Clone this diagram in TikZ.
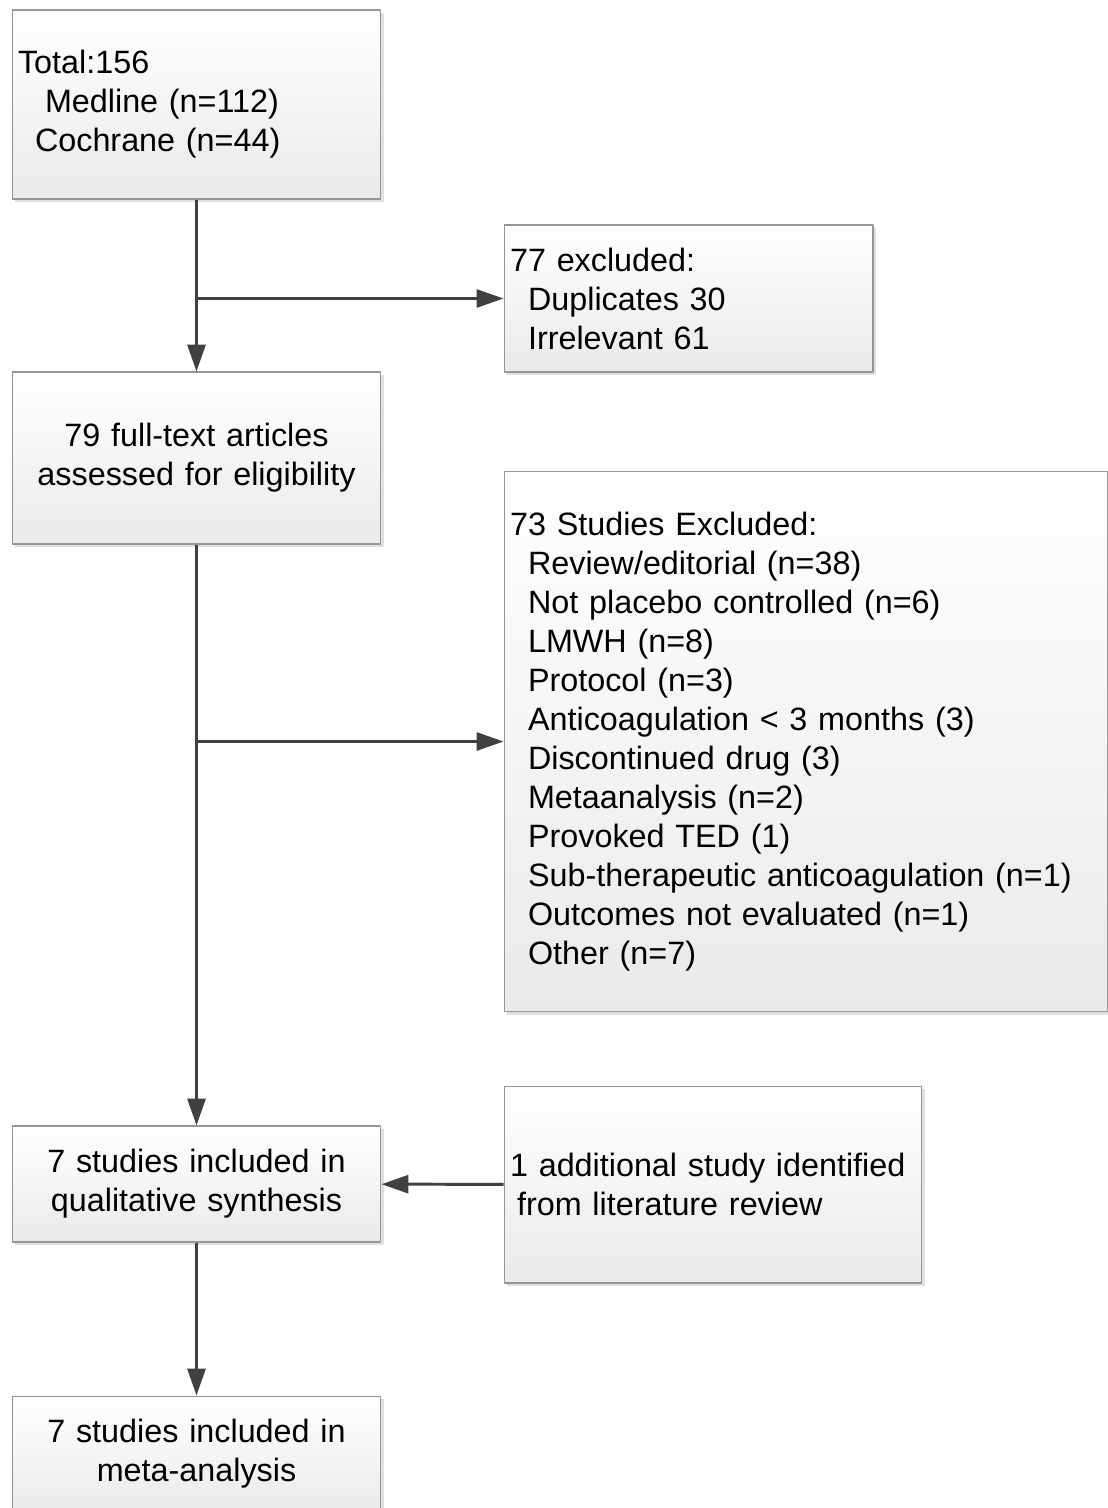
\documentclass[tikz,border=0pt]{standalone}
\usepackage{fontspec}
\setmainfont{Liberation Sans}
\usetikzlibrary{arrows.meta,shadows}
\definecolor{boxline}{RGB}{150,150,150}
\definecolor{arrowgray}{RGB}{64,64,64}
\definecolor{boxbottom}{RGB}{234,234,234}
\tikzset{
	box/.style={draw=boxline,line width=0.6pt,top color=white,bottom color=boxbottom,
		drop shadow={shadow xshift=0.06cm,shadow yshift=-0.06cm,fill=black!12,opacity=1},
		inner xsep=0.12cm,inner ysep=0pt,
		font=\fontsize{18.4}{22.2}\selectfont},
	leftbox/.style={box,align=left},
	midbox/.style={box,align=center},
	link/.style={draw=arrowgray,line width=1.7pt,->}
}
\newcommand{\ind}[1]{\hspace*{#1}}
\begin{document}
\begin{tikzpicture}[x=0.02cm,y=-0.02cm,>={Triangle[length=0.54cm,width=0.36cm]},line join=round]
	\useasboundingbox (0,0) rectangle (1107,1508);
	\node[leftbox,text width=7.14cm,minimum height=3.78cm] (total) at (196.5,104.5)
		{Total:156\\\ind{0.54cm}Medline (n=112)\\\ind{0.34cm}Cochrane (n=44)};
	\node[leftbox,text width=7.14cm,minimum height=2.94cm] (excl1) at (688.5,298.5)
		{77 excluded:\\\ind{0.36cm}Duplicates 30\\\ind{0.36cm}Irrelevant 61};
	\node[midbox,text width=7.14cm,minimum height=3.44cm] (full) at (196.5,458)
		{79 full-text articles\\assessed for eligibility};
	\node[leftbox,text width=11.84cm,minimum height=10.82cm] (excl2) at (806,741.5)
		{73 Studies Excluded:\\
		\ind{0.36cm}Review/editorial (n=38)\\
		\ind{0.36cm}Not placebo controlled (n=6)\\
		\ind{0.36cm}LMWH (n=8)\\
		\ind{0.36cm}Protocol (n=3)\\
		\ind{0.36cm}Anticoagulation < 3 months (3)\\
		\ind{0.36cm}Discontinued drug (3)\\
		\ind{0.36cm}Metaanalysis (n=2)\\
		\ind{0.36cm}Provoked TED (1)\\
		\ind{0.36cm}Sub-therapeutic anticoagulation (n=1)\\
		\ind{0.36cm}Outcomes not evaluated (n=1)\\
		\ind{0.36cm}Other (n=7)};
	\node[midbox,text width=7.14cm,minimum height=2.32cm] (qual) at (196.5,1184)
		{7 studies included in\\qualitative synthesis};
	\node[leftbox,text width=8.12cm,minimum height=3.94cm] (add) at (713,1184.5)
		{1 additional study identified\\\ind{0.14cm}from literature review};
	\node[midbox,text width=7.14cm,minimum height=2.32cm] (meta) at (196.5,1454)
		{7 studies included in\\meta-analysis};
	% connectors
	\draw[link] (total) -- (full);
	\draw[link] (excl1.west -| total.south) -- (excl1.west);
	\draw[link] (full) -- (qual);
	\draw[link] (excl2.west -| full.south) -- (excl2.west);
	\draw[link] (add) -- (qual);
	\draw[link] (qual) -- (meta);
\end{tikzpicture}
\end{document}
